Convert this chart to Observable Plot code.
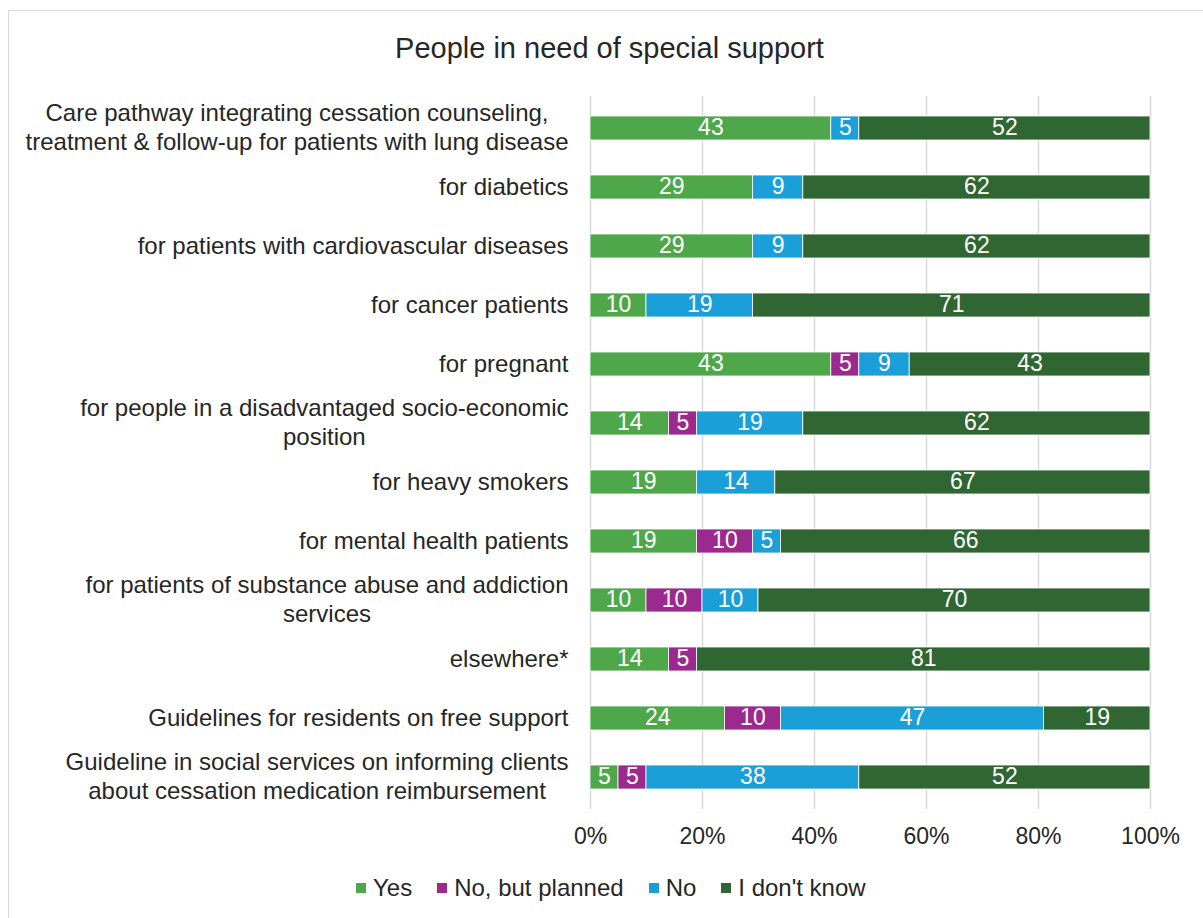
<!DOCTYPE html>
<html>
<head>
<meta charset="utf-8">
<script src="https://cdn.jsdelivr.net/npm/d3@7"></script>
<script src="https://cdn.jsdelivr.net/npm/@observablehq/plot@0.6"></script>
<style>
  html, body { margin: 0; padding: 0; background: #fff; overflow: hidden; }
  body { width: 1203px; height: 918px; position: relative; font-family: "Liberation Sans", Arial, sans-serif; color: #262626; }
  #chart { position: absolute; left: 0; top: 0; }
  #title { position: absolute; left: 0; top: 30px; width: 1219px; text-align: center; font-size: 29px; line-height: 36px; }
  #legend { position: absolute; left: 356px; top: 873px; display: flex; align-items: center; font-size: 24px; line-height: 30px; }
  .item { display: flex; align-items: center; margin-right: 25px; }
  .sw { width: 10px; height: 10px; margin-right: 7px; }
  #frame { position: absolute; left: 8px; top: 10px; width: 1215px; height: 930px; border: 1.5px solid #d9d9d9; box-sizing: border-box; pointer-events: none; }
</style>
</head>
<body>
<div id="chart"></div>
<div id="title">People in need of special support</div>
<div id="legend"></div>
<div id="frame"></div>
<script>
// Survey rows, top to bottom
const categories = [
  "Care pathway integrating cessation counseling,\ntreatment & follow-up for patients with lung disease",
  "for diabetics",
  "for patients with cardiovascular diseases",
  "for cancer patients",
  "for pregnant",
  "for people in a disadvantaged socio-economic\nposition",
  "for heavy smokers",
  "for mental health patients",
  "for patients of substance abuse and addiction\nservices",
  "elsewhere*",
  "Guidelines for residents on free support",
  "Guideline in social services on informing clients\nabout cessation medication reimbursement"
];

// Answer categories and their colours
const series = ["Yes", "No, but planned", "No", "I don't know"];
const colors = ["#4ea84a", "#9c2a8e", "#1b9fd8", "#2f6632"];

// Share of answers (%) per row
const yes      = [43, 29, 29, 10, 43, 14, 19, 19, 10, 14, 24, 5];
const planned  = [ 0,  0,  0,  0,  5,  5,  0, 10, 10,  5, 10, 5];
const no       = [ 5,  9,  9, 19,  9, 19, 14,  5, 10,  0, 47, 38];
const dontKnow = [52, 62, 62, 71, 43, 62, 67, 66, 70, 81, 19, 52];

const xTicks = [0, 20, 40, 60, 80, 100];

// Long-format table for stacking (zero shares are left out)
const bySeries = [yes, planned, no, dontKnow];
const table = [];
categories.forEach((category, i) => {
  series.forEach((s, j) => {
    const value = bySeries[j][i];
    if (value > 0) table.push({category, series: s, value});
  });
});

const chart = Plot.plot({
  width: 1203,
  height: 870,
  marginLeft: 590,
  marginRight: 53,
  marginTop: 96,
  marginBottom: 61,
  style: {
    fontFamily: '"Liberation Sans", Arial, sans-serif',
    fontSize: "24px",
    color: "#262626",
    background: "transparent"
  },
  x: {domain: [0, 100]},
  y: {domain: categories, paddingInner: 0.6, paddingOuter: 0.3},
  color: {domain: series, range: colors},
  marks: [
    Plot.gridX(xTicks, {stroke: "#d9d9d9", strokeOpacity: 1, strokeWidth: 1.5}),
    Plot.barX(table, Plot.stackX({
      x: "value", y: "category", fill: "series", order: series,
      stroke: "white", strokeWidth: 0.8
    })),
    Plot.text(table, Plot.stackX({
      x: "value", y: "category", z: "series", order: series,
      text: "value", fill: "white", fontSize: 23, dy: -1
    })),
    Plot.axisX({
      ticks: xTicks, tickFormat: d => d + "%", tickSize: 0, tickPadding: 18,
      fontSize: 23, label: null
    }),
    Plot.axisY({tickSize: 0, tickPadding: 22, lineHeight: 1.17, fontSize: 24, dy: -2, label: null})
  ]
});

document.getElementById("chart").append(chart);

// Multi-line row labels: centre the lines on each other, block kept right-aligned
chart.querySelectorAll('[aria-label="y-axis tick label"] text').forEach(t => {
  const spans = t.querySelectorAll("tspan");
  if (spans.length < 2) return;
  const w = Math.max(...Array.from(spans, s => s.getComputedTextLength()));
  t.setAttribute("text-anchor", "middle");
  const tr = t.getAttribute("transform") || "";
  t.setAttribute("transform", `${tr} translate(${-w / 2},0)`);
});

// Legend
const legend = document.getElementById("legend");
series.forEach((s, i) => {
  const item = document.createElement("div");
  item.className = "item";
  const sw = document.createElement("span");
  sw.className = "sw";
  sw.style.background = colors[i];
  const label = document.createElement("span");
  label.textContent = s;
  item.append(sw, label);
  legend.append(item);
});
</script>
</body>
</html>
